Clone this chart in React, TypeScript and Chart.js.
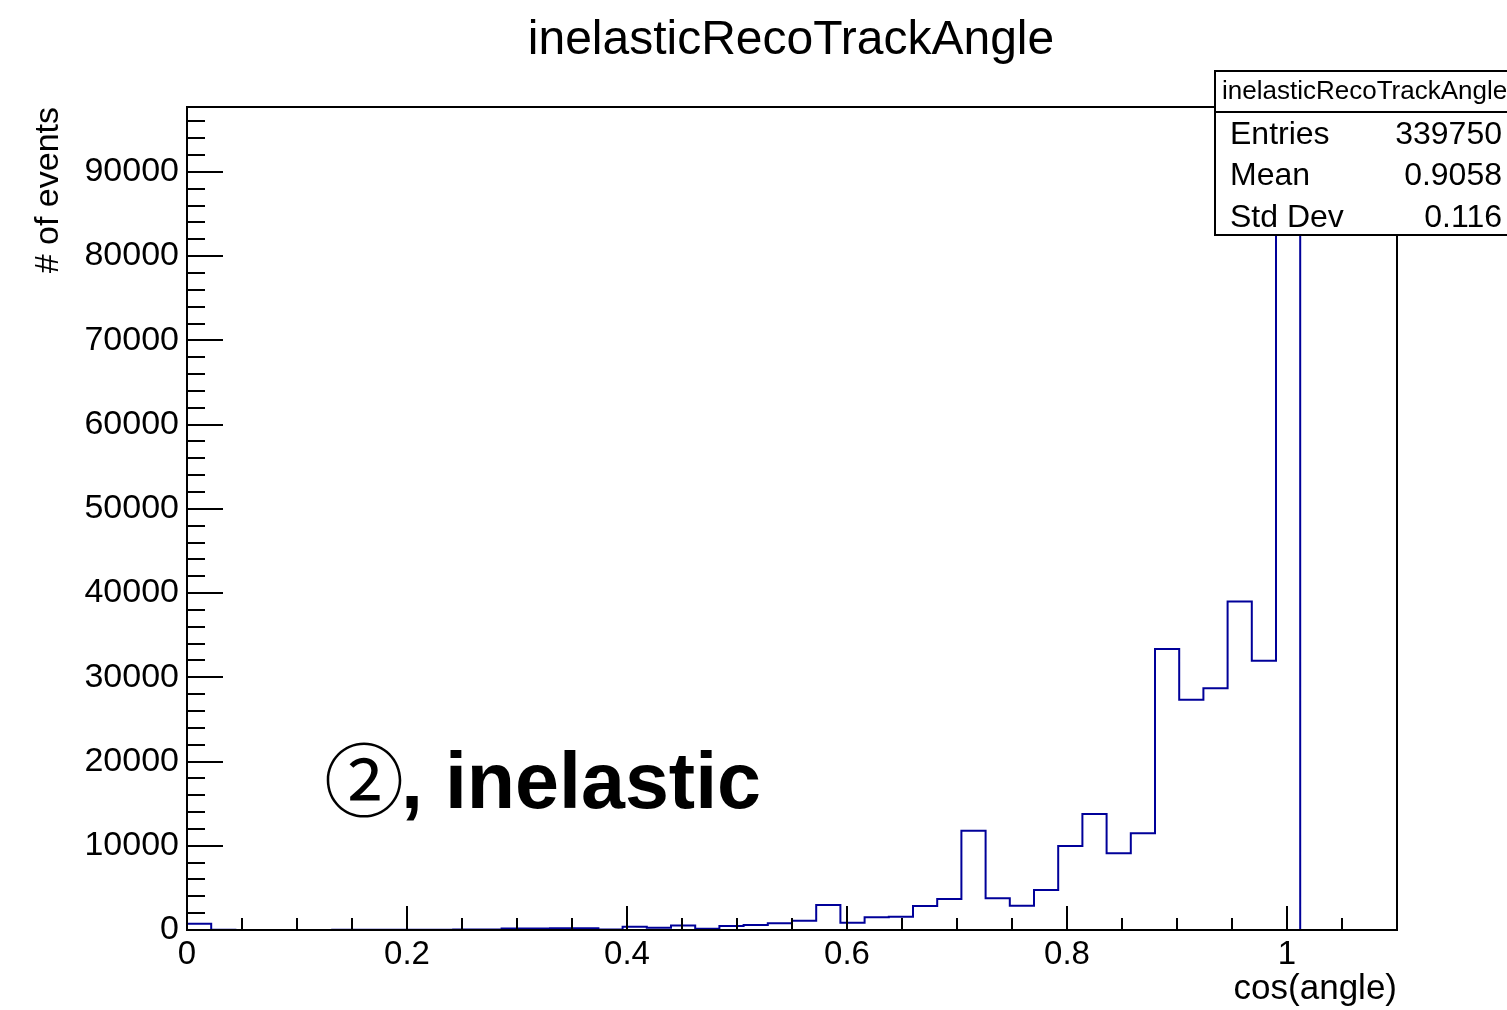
import { useEffect, useRef } from "react";
import { Chart, registerables } from "chart.js";

Chart.register(...registerables);

// Histogram definition: 50 equal bins on [0, 1.1]
const HIST_NAME = "inelasticRecoTrackAngle";
const X_TITLE = "cos(angle)";
const Y_TITLE = "# of events";
const X_MIN = 0;
const X_MAX = 1.1;
const N_BINS = 50;

// Bin contents, in order of increasing cos(angle)
const binCounts = [
  750, 20, 10, 10, 10, 10, 20, 20, 30, 30,
  40, 50, 60, 180, 180, 220, 220, 60, 400, 260,
  520, 150, 470, 590, 790, 1100, 2960, 870, 1510, 1580,
  2850, 3680, 11790, 3760, 2890, 4750, 9980, 13780, 9110, 11480,
  33370, 27320, 28700, 38990, 31950, 93050, 0, 0, 0, 0,
];

// Axis ticks
const xTickValues = [0, 0.2, 0.4, 0.6, 0.8, 1];
const xTickLabels = ["0", "0.2", "0.4", "0.6", "0.8", "1"];
const yTickValues = [0, 10000, 20000, 30000, 40000, 50000, 60000, 70000, 80000, 90000];
const yTickLabels = ["0", "10000", "20000", "30000", "40000", "50000", "60000", "70000", "80000", "90000"];
const X_MINOR_STEP = 0.05;
const X_MINOR_PER_MAJOR = 4;
const Y_MINOR_STEP = 2000;
const Y_MINOR_PER_MAJOR = 5;

// Statistics box
const statLabels = ["Entries", "Mean", "Std Dev"];
const statValues = ["339750", "0.9058", "0.116"];

const ANNOTATION_MARK = "②";
const ANNOTATION_TEXT = ", inelastic";

const FONT = "'Liberation Sans', Arial, Helvetica, sans-serif";
const LINE_COLOR = "#000099";

const rootStyle = {
  id: "rootStyle",
  afterDatasetsDraw(chart: any) {
    const { ctx, chartArea: a, scales } = chart;
    const xs = scales.x;
    const ys = scales.y;
    ctx.save();
    ctx.strokeStyle = "#000";
    ctx.lineWidth = 2;
    ctx.strokeRect(a.left, a.top, a.right - a.left, a.bottom - a.top);

    ctx.beginPath();
    const nx = Math.round((X_MAX - X_MIN) / X_MINOR_STEP);
    for (let i = 1; i < nx; i++) {
      const px = Math.round(xs.getPixelForValue(X_MIN + i * X_MINOR_STEP));
      const len = i % X_MINOR_PER_MAJOR === 0 ? 24 : 12;
      ctx.moveTo(px, a.bottom);
      ctx.lineTo(px, a.bottom - len);
    }
    const yMax = ys.max;
    for (let i = 1; i * Y_MINOR_STEP < yMax; i++) {
      const py = Math.round(ys.getPixelForValue(i * Y_MINOR_STEP));
      const len = i % Y_MINOR_PER_MAJOR === 0 ? 36 : 18;
      ctx.moveTo(a.left, py);
      ctx.lineTo(a.left + len, py);
    }
    ctx.stroke();
    ctx.restore();
  },
  afterDraw(chart: any) {
    const { ctx, chartArea: a } = chart;
    ctx.save();
    ctx.fillStyle = "#000";

    // histogram title
    ctx.font = `48px ${FONT}`;
    ctx.textAlign = "center";
    ctx.textBaseline = "alphabetic";
    ctx.fillText(HIST_NAME, 791, 54);

    // x axis title, right aligned to the frame
    ctx.font = `35px ${FONT}`;
    ctx.textAlign = "right";
    ctx.fillText(X_TITLE, a.right, 999);

    // y axis title, rotated, ending at the frame top
    ctx.save();
    ctx.translate(58, a.top);
    ctx.rotate(-Math.PI / 2);
    ctx.textAlign = "right";
    ctx.font = `34px ${FONT}`;
    ctx.fillText(Y_TITLE, 0, 0);
    ctx.restore();

    // annotation
    ctx.textAlign = "left";
    ctx.font = `80px 'Noto Sans CJK JP', ${FONT}`;
    ctx.fillText(ANNOTATION_MARK, 324, 810);
    ctx.font = `bold 79px ${FONT}`;
    ctx.fillText(ANNOTATION_TEXT, 401, 808);

    // statistics box
    const bx = 1215;
    const by = 71;
    const bw = 400;
    const bh = 164;
    ctx.fillStyle = "#fff";
    ctx.fillRect(bx, by, bw, bh);
    ctx.strokeStyle = "#000";
    ctx.lineWidth = 2;
    ctx.strokeRect(bx, by, bw, bh);
    ctx.beginPath();
    ctx.moveTo(bx, 112);
    ctx.lineTo(bx + bw, 112);
    ctx.stroke();

    ctx.fillStyle = "#000";
    ctx.textBaseline = "middle";
    ctx.font = `26px ${FONT}`;
    ctx.textAlign = "left";
    ctx.fillText(HIST_NAME, 1222, 92);

    ctx.font = `32px ${FONT}`;
    const rowY = [135, 176, 218];
    statLabels.forEach((lab, i) => {
      ctx.textAlign = "left";
      ctx.fillText(lab, 1230, rowY[i]);
      ctx.textAlign = "right";
      ctx.fillText(statValues[i], 1502, rowY[i]);
    });
    ctx.restore();
  },
};

export default function App() {
  const canvasRef = useRef<HTMLCanvasElement | null>(null);

  useEffect(() => {
    if (!canvasRef.current) return;
    const binWidth = (X_MAX - X_MIN) / N_BINS;
    const points = [
      { x: X_MIN, y: 0 },
      ...binCounts.map((c, i) => ({ x: X_MIN + i * binWidth, y: c })),
      { x: X_MAX, y: 0 },
    ];
    const yMax = Math.max(...binCounts) * 1.05;

    const chart = new Chart(canvasRef.current, {
      type: "line",
      data: {
        datasets: [
          {
            data: points,
            borderColor: LINE_COLOR,
            borderWidth: 2,
            pointRadius: 0,
            pointHoverRadius: 0,
            stepped: "before",
            fill: false,
            tension: 0,
          },
        ],
      },
      plugins: [rootStyle],
      options: {
        responsive: false,
        devicePixelRatio: 1,
        animation: false,
        events: [],
        layout: { padding: { left: 0, right: 110, top: 107, bottom: 0 } },
        plugins: {
          legend: { display: false },
          title: { display: false },
          tooltip: { enabled: false },
        },
        scales: {
          x: {
            type: "linear",
            min: X_MIN,
            max: X_MAX,
            grid: { display: false },
            border: { display: false },
            afterBuildTicks: (s: any) => {
              s.ticks = xTickValues.map((v) => ({ value: v }));
            },
            afterFit: (s: any) => {
              s.height = 80;
            },
            ticks: {
              autoSkip: false,
              maxRotation: 0,
              padding: -3,
              color: "#000",
              font: { family: FONT, size: 33 },
              callback: (_v: any, i: number) => xTickLabels[i],
            },
          },
          y: {
            type: "linear",
            min: 0,
            max: yMax,
            grid: { display: false },
            border: { display: false },
            afterBuildTicks: (s: any) => {
              s.ticks = yTickValues.map((v) => ({ value: v }));
            },
            afterFit: (s: any) => {
              s.width = 187;
            },
            ticks: {
              autoSkip: false,
              padding: 0,
              color: "#000",
              font: { family: FONT, size: 34 },
              callback: (_v: any, i: number) => yTickLabels[i],
            },
          },
        },
      } as any,
    });
    return () => chart.destroy();
  }, []);

  return (
    <div style={{ position: "fixed", left: 0, top: 0, width: 1507, height: 1010, background: "#fff" }}>
      <canvas ref={canvasRef} width={1507} height={1010} style={{ display: "block" }} />
    </div>
  );
}
